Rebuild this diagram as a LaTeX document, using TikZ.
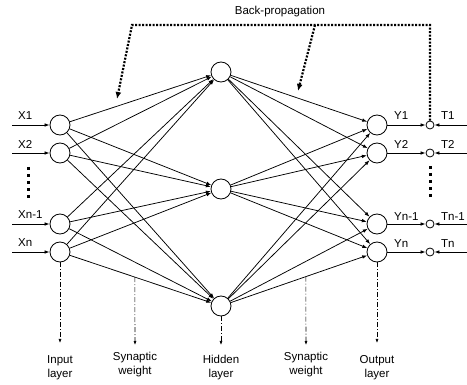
\documentclass[tikz,border=0pt]{standalone}
\usepackage{fontspec}
\setmainfont{Liberation Sans}
\usetikzlibrary{arrows.meta}
\begin{document}
\begin{tikzpicture}[x=1pt,y=-1pt,
        neuron/.style={draw,circle,line width=0.8pt,minimum size=20pt,inner sep=0pt},
        errnode/.style={draw,circle,line width=0.8pt,minimum size=8pt,inner sep=0pt},
        link/.style={-{Latex[length=5pt,width=3.6pt]},line width=0.75pt},
        backprop/.style={-{Latex[length=7pt,width=6pt]},line width=2.2pt,dash pattern=on 2pt off 1.5pt},
        guide/.style={-{Latex[length=4pt,width=3pt]},line width=0.6pt,dash pattern=on 5pt off 2pt on 1pt off 2pt},
        vdots/.style={line width=3pt,dash pattern=on 3pt off 4pt},
        txt/.style={font=\fontsize{11.5}{14}\selectfont,inner sep=0pt,align=center}]
                \useasboundingbox (0,0) rectangle (467,385);
                \foreach \i/\y in {1/125,2/153,3/224,4/252} {
                    \node[neuron] (in\i) at (60,\y) {};
                    \node[neuron] (out\i) at (377,\y) {};
                    \node[errnode] (err\i) at (430,\y) {};
                    \coordinate (src\i) at (12,\y);
                    \coordinate (tgt\i) at (467,\y);
                    \draw[link] (src\i) -- (in\i);
                    \draw[link] (out\i) -- (err\i);
                    \draw[link] (tgt\i) -- (err\i);
                }
                \node[neuron] (hid1) at (221,72) {};
                \node[neuron] (hid2) at (221,189) {};
                \node[neuron] (hid3) at (221,306) {};
                \foreach \i in {1,...,4}
                    \foreach \h in {1,2,3} {
                        \draw[link] (in\i) -- (hid\h);
                        \draw[link] (hid\h) -- (out\i);
                    }
                \path
                    (18,116) node[txt,anchor=west] (lx1) {X1}
                    (18,144) node[txt,anchor=west] (lx2) {X2}
                    (18,215) node[txt,anchor=west] (lx3) {Xn-1}
                    (18,243) node[txt,anchor=west] (lx4) {Xn};
                \path
                    (394,116) node[txt,anchor=west] (ly1) {Y1}
                    (394,144) node[txt,anchor=west] (ly2) {Y2}
                    (394,217) node[txt,anchor=west] (ly3) {Yn-1}
                    (394,244) node[txt,anchor=west] (ly4) {Yn};
                \path
                    (441,116) node[txt,anchor=west] (lt1) {T1}
                    (441,144) node[txt,anchor=west] (lt2) {T2}
                    (441,217) node[txt,anchor=west] (lt3) {Tn-1}
                    (441,244) node[txt,anchor=west] (lt4) {Tn};
                \draw[vdots] (28,167) -- (28,201);
                \draw[vdots] (430,166) -- (430,200);
                \coordinate (bpR) at (430,25);
                \coordinate (bpL) at (132,25);
                \coordinate (bpM) at (315,25);
                \coordinate (bpA) at (117,99);
                \coordinate (bpB) at (298,91);
                \draw[backprop] (err1) -- (bpR) -- (bpL) -- (bpA);
                \draw[backprop] (bpM) -- (bpB);
                \node[txt] (bptext) at (280,12) {Back-propagation};
                \path (in4) -- (hid3) coordinate[pos=0.46] (w1);
                \path (hid3) -- (out4) coordinate[pos=0.55] (w2);
                \coordinate (inEnd) at (60,343);
                \coordinate (w1End) at (135,345);
                \coordinate (hidEnd) at (221,345);
                \coordinate (w2End) at (306,345);
                \coordinate (outEnd) at (377,343);
                \draw[guide] (in4) -- (inEnd);
                \draw[guide] (w1) -- (w1End);
                \draw[guide] (hid3) -- (hidEnd);
                \draw[guide] (w2) -- (w2End);
                \draw[guide] (out4) -- (outEnd);
                \path
                    (60,368) node[txt] (linput) {Input\\layer}
                    (135,365) node[txt] (lw1) {Synaptic\\weight}
                    (221,368) node[txt] (lhidden) {Hidden\\layer}
                    (306,365) node[txt] (lw2) {Synaptic\\weight}
                    (377,368) node[txt] (loutput) {Output\\layer};
            \end{tikzpicture}
\end{document}
